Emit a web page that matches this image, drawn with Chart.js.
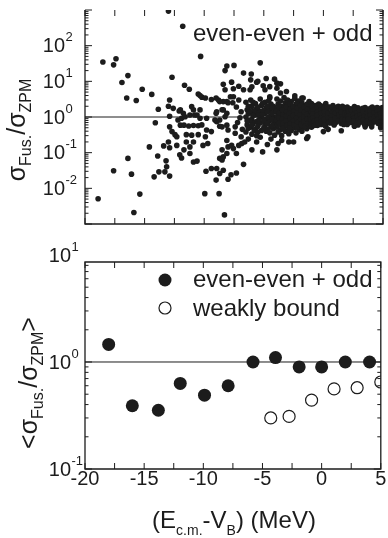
<!DOCTYPE html>
<html>
<head>
<meta charset="utf-8">
<script src="https://cdn.jsdelivr.net/npm/chart.js@4.4.1/dist/chart.umd.min.js"></script>
<style>
html, body { margin: 0; padding: 0; background: #fff; }
#wrap { position: relative; width: 388px; height: 538px; overflow: hidden; }
canvas { position: absolute; left: 0; top: 0; }
</style>
</head>
<body>
<div id="wrap">
<canvas id="topChart" width="388" height="538"></canvas>
<canvas id="bottomChart" width="388" height="538"></canvas>
</div>
<script>
// axis ticks
const xTicks = [-20, -17.5, -15, -12.5, -10, -7.5, -5, -2.5, 0, 2.5, 5];
const xLabels = [-20, -15, -10, -5, 0, 5];
const topDecades = [-2, -1, 0, 1, 2];
const bottomDecades = [-1, 0, 1];

// upper panel: sigma_fus / sigma_ZPM, one point per reaction/energy [E - VB, ratio]
const scatterLeft = [
  [-13.0, 930], [-11.8, 350],
  [-18.5, 35], [-17.6, 29], [-17.4, 43], [-10.3, 50],
  [-16.9, 9.3], [-16.4, 14.5], [-16.5, 3.4], [-15.7, 2.9], [-15.2, 6.0], [-14.4, 4.3],
  [-12.7, 13], [-11.65, 7.8], [-11.25, 6.0],
  [-13.85, 1.65], [-14.1, 0.69], [-12.9, 3.0], [-13.0, 2.0], [-12.6, 1.75], [-12.1, 1.47],
  [-12.9, 1.05], [-12.2, 0.82], [-11.9, 0.92], [-11.6, 1.02], [-12.0, 0.59], [-11.7, 0.59],
  [-11.05, 1.95], [-10.9, 1.58], [-11.2, 1.14], [-10.8, 1.14],
  [-11.3, 0.56], [-10.9, 0.58], [-10.5, 0.57], [-10.2, 0.6],
  [-10.35, 0.92], [-9.8, 0.92],
  [-12.9, 0.53], [-12.7, 0.39], [-12.45, 0.32], [-12.3, 0.28],
  [-11.5, 0.32], [-11.05, 0.31], [-10.5, 0.32], [-9.9, 0.28], [-9.8, 0.43], [-9.4, 0.39],
  [-10.1, 0.16], [-9.7, 0.18], [-11.5, 0.2], [-11.2, 0.145], [-10.9, 0.2],
  [-12.3, 0.16], [-12.9, 0.137], [-13.4, 0.155], [-13.0, 0.2], [-14.6, 0.145],
  [-12.05, 0.087], [-11.9, 0.071], [-11.7, 0.12], [-11.2, 0.095],
  [-10.9, 0.055], [-10.6, 0.058],
  [-13.9, 0.081], [-13.2, 0.059], [-13.15, 0.04], [-13.3, 0.029], [-13.8, 0.029], [-14.2, 0.021], [-12.9, 0.022],
  [-18.9, 0.0051], [-17.6, 0.031], [-16.4, 0.069], [-16.1, 0.025], [-15.4, 0.0069], [-15.9, 0.0021],
  [-9.85, 0.030], [-9.4, 0.036], [-8.95, 0.036], [-8.7, 0.026], [-8.4, 0.032], [-9.0, 0.017], [-8.0, 0.018],
  [-7.75, 0.024], [-7.3, 0.027], [-6.7, 0.047], [-9.95, 0.0071], [-8.75, 0.0071], [-8.3, 0.0018],
  [-8.7, 0.069], [-8.4, 0.076], [-8.5, 0.062], [-8.5, 0.12], [-8.1, 0.095], [-8.0, 0.145], [-7.7, 0.16],
  [-7.55, 0.13], [-7.3, 0.095], [-7.1, 0.16], [-6.85, 0.18], [-6.6, 0.2], [-6.0, 0.12], [-5.1, 0.105], [-3.9, 0.12],
  [-8.1, 0.22], [-8.0, 0.43], [-8.5, 0.53], [-7.4, 0.53], [-8.95, 0.74], [-8.1, 0.59], [-8.7, 0.55],
  [-9.1, 0.82], [-8.7, 0.82], [-8.25, 1.02], [-9.0, 1.27], [-8.5, 1.6], [-8.95, 1.4], [-8.4, 1.58], [-8.1, 1.27],
  [-12.0, 1.58], [-11.75, 1.27], [-10.6, 1.14], [-10.35, 1.58],
  [-10.5, 4.4], [-10.2, 3.6], [-9.9, 3.4], [-9.4, 3.1], [-8.8, 3.0], [-8.4, 2.7], [-8.1, 2.7], [-7.8, 3.7],
  [-7.55, 3.7], [-7.1, 3.0], [-10.35, 4.0], [-8.0, 2.5], [-7.6, 2.5], [-9.0, 3.4], [-8.7, 2.7],
  [-8.1, 27], [-7.5, 28], [-8.25, 20], [-6.7, 17], [-6.05, 16], [-5.3, 33],
  [-7.7, 9.5], [-8.4, 8.3], [-7.1, 7.3], [-7.55, 6.2], [-8.25, 5.8], [-6.7, 5.8], [-6.15, 5.8]
];

const scatterMid = [
  [-6.1, 11], [-5.5, 10], [-4.8, 12], [-4.1, 11.5], [-5.6, 9.4], [-3.6, 8.5],
  [-5.05, 7.5], [-4.5, 7.1], [-3.9, 8.9], [-6.0, 7.0], [-4.9, 5.8], [-4.5, 3.7], [-3.6, 4.7],
  [-3.1, 5.2], [-2.4, 3.9], [-1.8, 3.4], [-3.9, 6.4],
  [-7.3, 1.9], [-6.9, 1.4], [-7.0, 0.95], [-7.2, 0.7], [-6.8, 0.45], [-7.4, 0.35], [-6.9, 0.28],
  [-3.8, 0.18], [-2.9, 0.2], [-1.3, 0.28], [-3.5, 0.22], [-2.5, 0.2], [-1.4, 0.25], [-5.6, 0.2], [-4.7, 0.17],
  [-6.5, 2.6], [-6.4, 1.6], [-6.5, 1.0], [-6.4, 0.6], [-6.5, 0.38], [-6.3, 0.24],
  [-6.1, 3.0], [-6.0, 2.0], [-6.1, 1.3], [-6.0, 0.85], [-6.1, 0.52], [-6.0, 0.33],
  [-5.7, 2.4], [-5.6, 1.7], [-5.7, 1.15], [-5.6, 0.75], [-5.7, 0.46], [-5.6, 0.3],
  [-5.3, 3.2], [-5.2, 2.1], [-5.3, 1.45], [-5.2, 1.0], [-5.3, 0.68], [-5.2, 0.42], [-5.3, 0.27],
  [-4.9, 2.6], [-4.8, 1.8], [-4.9, 1.25], [-4.8, 0.88], [-4.9, 0.6], [-4.8, 0.4],
  [-4.5, 3.4], [-4.4, 2.3], [-4.5, 1.6], [-4.4, 1.1], [-4.5, 0.78], [-4.4, 0.53], [-4.5, 0.36], [-4.4, 0.24],
  [-4.2, 2.0], [-4.1, 1.4], [-4.2, 0.98], [-4.1, 0.68], [-4.2, 0.47], [-4.1, 0.31],
  [-6.3, 1.25], [-5.9, 0.65], [-5.5, 1.3], [-5.0, 0.5], [-4.6, 1.0], [-6.2, 0.8], [-5.4, 0.85], [-5.8, 1.5],
  [-6.3, 2.0], [-6.3, 0.48], [-6.2, 1.5], [-5.9, 2.6], [-5.9, 1.1], [-5.8, 0.42], [-5.5, 1.9], [-5.5, 0.55],
  [-5.4, 1.15], [-5.1, 2.4], [-5.1, 1.2], [-5.0, 0.78], [-5.0, 1.55], [-4.7, 2.0], [-4.7, 1.4], [-4.7, 0.65],
  [-4.65, 0.45], [-4.3, 1.8], [-4.3, 1.25], [-4.3, 0.85], [-4.3, 0.58], [-4.6, 2.8], [-6.4, 0.78], [-6.0, 0.6], [-5.5, 0.38],
  [-3.9, 3.2], [-3.8, 2.3], [-3.9, 1.7], [-3.8, 1.25], [-3.9, 0.95], [-3.8, 0.7], [-3.9, 0.52], [-3.8, 0.38],
  [-3.6, 2.8], [-3.5, 2.0], [-3.6, 1.5], [-3.5, 1.1], [-3.6, 0.82], [-3.5, 0.6], [-3.6, 0.44], [-3.5, 0.3],
  [-3.3, 3.5], [-3.2, 2.5], [-3.3, 1.8], [-3.2, 1.35], [-3.3, 1.0], [-3.2, 0.75], [-3.3, 0.55], [-3.2, 0.4],
  [-3.0, 2.2], [-2.9, 1.6], [-3.0, 1.2], [-2.9, 0.88], [-3.0, 0.65], [-2.9, 0.47], [-3.0, 3.0], [-2.9, 0.34],
  [-2.7, 2.7], [-2.6, 1.95], [-2.7, 1.45], [-2.6, 1.05], [-2.7, 0.78], [-2.6, 0.57], [-2.7, 0.42],
  [-2.4, 3.3], [-2.3, 2.3], [-2.4, 1.7], [-2.3, 1.25], [-2.4, 0.92], [-2.3, 0.68], [-2.4, 0.5], [-2.3, 0.36],
  [-2.1, 2.0], [-2.0, 1.5], [-2.1, 1.1], [-2.0, 0.82], [-2.1, 0.6], [-2.0, 0.45], [-2.1, 2.8],
  [-1.8, 2.5], [-1.7, 1.8], [-1.8, 1.3], [-1.7, 0.98], [-1.8, 0.72], [-1.7, 0.53], [-1.8, 0.4], [-1.7, 3.4],
  [-1.5, 2.1], [-1.4, 1.55], [-1.5, 1.15], [-1.4, 0.85], [-1.5, 0.63], [-1.4, 0.47],
  [-1.2, 2.7], [-1.25, 1.9], [-1.2, 1.35], [-1.3, 1.0], [-1.2, 0.75], [-1.25, 0.55],
  [-3.95, 1.45], [-3.85, 1.05], [-3.92, 0.82], [-3.86, 0.6], [-3.72, 1.9], [-3.68, 1.3], [-3.74, 0.95], [-3.7, 0.68],
  [-3.42, 1.6], [-3.38, 1.15], [-3.44, 0.88], [-3.4, 0.65], [-3.36, 0.48], [-3.12, 1.9], [-3.08, 1.4], [-3.1, 1.05],
  [-3.14, 0.78], [-3.06, 0.58], [-2.82, 2.3], [-2.78, 1.65], [-2.84, 1.25], [-2.8, 0.92], [-2.76, 0.66], [-2.82, 0.5],
  [-2.52, 1.95], [-2.48, 1.45], [-2.54, 1.1], [-2.5, 0.8], [-2.46, 0.6], [-2.22, 2.4], [-2.18, 1.75], [-2.2, 1.3],
  [-2.24, 0.95], [-2.16, 0.7], [-2.2, 0.52], [-1.92, 2.1], [-1.88, 1.55], [-1.94, 1.15], [-1.9, 0.85], [-1.86, 0.62],
  [-1.62, 1.9], [-1.58, 1.35], [-1.64, 1.0], [-1.6, 0.75], [-1.56, 0.55], [-1.36, 2.3], [-1.32, 1.65], [-1.38, 1.2],
  [-1.34, 0.88], [-1.3, 0.66], [-1.12, 1.6], [-1.08, 1.15], [-1.1, 0.85], [-1.06, 0.64]
];

const scatterRight = [
  [-1.0, 2.4], [-0.9, 1.8], [-1.0, 1.4], [-0.8, 1.1], [-1.0, 0.85], [-0.9, 0.66], [-1.0, 0.52],
  [-0.7, 2.1], [-0.6, 1.6], [-0.7, 1.25], [-0.6, 0.95], [-0.7, 0.74], [-0.5, 0.58],
  [-0.4, 2.3], [-0.3, 1.85], [-0.4, 1.4], [-0.3, 1.05], [-0.4, 0.8], [-0.2, 0.62],
  [-0.1, 1.6], [0.0, 1.2], [-0.1, 0.9], [0.0, 0.7], [0.0, 2.0],
  [0.2, 2.4], [0.3, 1.5], [0.2, 1.0], [0.3, 0.78], [0.2, 0.55],
  [0.5, 1.9], [0.6, 1.3], [0.5, 0.95], [0.6, 0.68],
  [0.8, 2.1], [0.8, 1.6], [0.9, 1.15], [0.8, 0.85], [0.9, 0.6],
  [1.1, 1.85], [1.1, 1.4], [1.2, 1.0], [1.1, 0.75],
  [1.4, 1.65], [1.4, 1.2], [1.3, 0.9], [1.5, 0.66],
  [1.6, 2.0], [1.7, 1.45], [1.7, 1.05], [1.6, 0.8],
  [1.9, 1.7], [1.9, 1.25], [1.8, 0.95], [1.9, 0.7],
  [-0.95, 2.0], [-0.85, 1.55], [-0.9, 1.2], [-0.85, 0.95], [-0.8, 0.75], [-0.75, 0.58], [-0.55, 1.95], [-0.5, 1.4],
  [-0.55, 1.1], [-0.5, 0.82], [-0.45, 0.68], [-0.25, 2.1], [-0.2, 1.6], [-0.2, 1.25], [-0.15, 0.95], [-0.2, 0.75],
  [0.1, 1.8], [0.1, 1.4], [0.1, 1.05], [0.05, 0.85], [0.1, 0.6], [0.35, 1.9], [0.4, 1.25], [0.4, 0.95],
  [0.45, 0.7], [0.7, 1.8], [0.7, 1.4], [0.7, 1.05], [0.65, 0.82], [0.95, 1.55], [1.0, 1.3], [1.0, 0.9],
  [1.0, 0.68], [1.25, 2.0], [1.25, 1.5], [1.3, 1.15], [1.25, 0.78], [1.5, 1.85], [1.5, 1.35], [1.55, 1.0],
  [1.55, 0.85], [1.75, 1.8], [1.8, 1.25], [1.8, 0.82], [1.7, 0.62],
  [2.0, 1.9], [2.1, 1.5], [2.0, 1.2], [2.2, 0.95], [2.1, 0.78], [2.0, 0.62],
  [2.3, 1.7], [2.4, 1.3], [2.5, 1.05], [2.4, 0.85], [2.5, 0.68],
  [2.6, 1.95], [2.7, 1.45], [2.7, 1.15], [2.8, 0.9], [2.7, 0.74], [2.9, 0.6],
  [2.9, 1.8], [3.0, 1.35], [3.0, 1.0], [3.1, 0.8],
  [3.2, 1.6], [3.3, 1.2], [3.2, 0.95], [3.4, 0.7],
  [3.5, 1.85], [3.5, 1.45], [3.6, 1.1], [3.5, 0.85], [3.6, 0.62],
  [3.8, 1.6], [3.8, 1.25], [3.9, 0.95], [3.8, 0.76],
  [4.1, 1.9], [4.0, 1.4], [4.1, 1.05], [4.2, 0.82], [4.1, 0.66],
  [4.3, 1.55], [4.4, 1.2], [4.4, 0.92], [4.5, 0.72],
  [4.6, 1.75], [4.6, 1.35], [4.7, 1.0], [4.7, 0.8], [4.8, 0.6],
  [4.9, 1.6], [4.9, 1.15], [5.0, 0.9], [5.0, 0.72], [5.0, 1.4], [4.95, 1.85],
  [2.15, 1.35], [2.25, 1.1], [2.3, 0.88], [2.2, 0.7], [2.35, 1.55], [2.55, 1.2], [2.6, 0.95], [2.55, 0.78],
  [2.65, 1.65], [2.8, 1.3], [2.85, 1.05], [2.95, 0.82], [2.85, 0.68], [3.05, 1.55], [3.1, 1.15], [3.15, 0.9],
  [3.05, 0.7], [3.3, 1.75], [3.35, 1.4], [3.4, 1.05], [3.35, 0.82], [3.45, 0.62], [3.65, 1.65], [3.7, 1.3],
  [3.7, 0.98], [3.65, 0.74], [3.95, 1.75], [3.9, 1.45], [3.95, 1.12], [4.0, 0.86], [3.95, 0.65], [4.25, 1.7],
  [4.25, 1.3], [4.3, 1.0], [4.3, 0.76], [4.5, 1.85], [4.55, 1.45], [4.55, 1.12], [4.6, 0.88], [4.6, 0.66],
  [4.8, 1.55], [4.8, 1.25], [4.85, 0.95], [4.85, 0.75], [2.05, 1.05], [2.1, 0.86],
  [1.5, 0.41], [3.5, 0.53], [4.05, 0.53], [0.0, 0.39], [0.4, 0.45], [4.8, 0.5], [2.6, 0.55]
];

// lower panel: averaged ratios
const evenOddX = [-18, -16, -13.8, -11.95, -9.9, -7.9, -5.8, -3.9, -1.9, 0, 2, 4.05];
const evenOddY = [1.46, 0.39, 0.354, 0.63, 0.49, 0.60, 1.0, 1.10, 0.90, 0.90, 1.0, 1.0];
const weaklyX = [-4.3, -2.75, -0.85, 1.05, 3.0, 5.0];
const weaklyY = [0.30, 0.31, 0.44, 0.56, 0.575, 0.65];

const ink = '#1c1c1c';
const fontFamily = "'Liberation Sans', Arial, Helvetica, sans-serif";

function toPoints(list) {
  return list.map(function (p) { return { x: p[0], y: p[1] }; });
}
function zipPoints(xs, ys) {
  return xs.map(function (x, i) { return { x: x, y: ys[i] }; });
}

// text with sub/superscripts: parts = [text, size, shift]
function drawRich(ctx, parts, cx, cy, angle) {
  ctx.save();
  ctx.translate(cx, cy);
  ctx.rotate(angle);
  ctx.textAlign = 'left';
  ctx.textBaseline = 'alphabetic';
  let w = 0;
  parts.forEach(function (p) {
    ctx.font = p[1] + 'px ' + fontFamily;
    w += ctx.measureText(p[0]).width;
  });
  let x = -w / 2;
  parts.forEach(function (p) {
    ctx.font = p[1] + 'px ' + fontFamily;
    ctx.fillText(p[0], x, p[2]);
    x += ctx.measureText(p[0]).width;
  });
  ctx.restore();
}

const framePlugin = {
  id: 'frame',
  afterDraw(chart, args, o) {
    const ctx = chart.ctx, a = chart.chartArea;
    const xs = chart.scales.x, ys = chart.scales.y;
    ctx.save();
    ctx.strokeStyle = ink;
    ctx.fillStyle = ink;
    ctx.lineWidth = 1.3;
    ctx.beginPath();
    ctx.moveTo(a.left, a.top);
    ctx.lineTo(a.left, a.bottom);
    ctx.lineTo(a.right, a.bottom);
    ctx.lineTo(a.right, a.top);
    if (o.closed) ctx.closePath();
    ctx.stroke();

    ctx.lineWidth = 1;
    ctx.beginPath();
    xTicks.forEach(function (v) {
      const p = xs.getPixelForValue(v);
      ctx.moveTo(p, a.bottom); ctx.lineTo(p, a.bottom - 6);
      ctx.moveTo(p, a.top); ctx.lineTo(p, a.top + 6);
    });
    for (let e = -4; e < 4; e++) {
      for (let m = 1; m < 10; m++) {
        const v = m * Math.pow(10, e);
        if (v < ys.min * 0.999 || v > ys.max * 1.001) continue;
        const p = ys.getPixelForValue(v);
        const len = m === 1 ? 7 : 3.5;
        ctx.moveTo(a.left, p); ctx.lineTo(a.left + len, p);
        ctx.moveTo(a.right, p); ctx.lineTo(a.right - len, p);
      }
    }
    ctx.stroke();

    // decade labels 10^n
    o.decades.forEach(function (e) {
      const p = ys.getPixelForValue(Math.pow(10, e));
      ctx.textBaseline = 'middle';
      ctx.textAlign = 'right';
      ctx.font = '20px ' + fontFamily;
      ctx.fillText('10', o.tenRight, p + 1);
      ctx.textAlign = 'left';
      ctx.font = '13px ' + fontFamily;
      ctx.fillText(String(e), o.tenRight + 0.5, p - 8);
    });

    if (o.xLabels) {
      ctx.textAlign = 'center';
      ctx.textBaseline = 'middle';
      ctx.font = '20px ' + fontFamily;
      xLabels.forEach(function (v) {
        ctx.fillText(String(v), xs.getPixelForValue(v), a.bottom + 10);
      });
    }

    // legend
    ctx.textAlign = 'left';
    ctx.textBaseline = 'alphabetic';
    ctx.font = '24px ' + fontFamily;
    o.legend.forEach(function (item) {
      if (item.marker === 'filled') {
        ctx.beginPath(); ctx.arc(item.mx, item.my, 6.5, 0, Math.PI * 2); ctx.fill();
      } else if (item.marker === 'open') {
        ctx.beginPath(); ctx.arc(item.mx, item.my, 6, 0, Math.PI * 2);
        ctx.lineWidth = 1.2; ctx.stroke();
      }
      ctx.fillText(item.text, item.tx, item.ty);
    });

    o.titles.forEach(function (t) {
      drawRich(ctx, t.parts, t.x, t.y, t.angle);
    });
    ctx.restore();
  }
};

const baseOptions = function (padding, yMin, yMax, frame) {
  return {
    responsive: false,
    animation: false,
    events: [],
    layout: { padding: padding },
    scales: {
      x: { type: 'linear', min: -20, max: 5, display: false },
      y: { type: 'logarithmic', min: yMin, max: yMax, display: false }
    },
    plugins: { legend: { display: false }, tooltip: { enabled: false }, frame: frame }
  };
};

new Chart(document.getElementById('topChart'), {
  type: 'scatter',
  data: {
    datasets: [
      {
        type: 'line',
        data: [{ x: -20, y: 1 }, { x: 5, y: 1 }],
        borderColor: ink, borderWidth: 1, pointRadius: 0, order: 2
      },
      {
        data: toPoints(scatterLeft.concat(scatterMid, scatterRight)),
        backgroundColor: ink, borderWidth: 0, pointRadius: 2.8, order: 1
      }
    ]
  },
  options: baseOptions({ left: 85, right: 5, top: 10, bottom: 314 }, 0.001, 1000, {
    closed: false,
    decades: topDecades,
    tenRight: 65,
    xLabels: false,
    legend: [{ marker: null, text: 'even-even + odd', tx: 193, ty: 41 }],
    titles: [{
      parts: [['\u03c3', 25, 0], ['Fus.', 16, 6], ['/', 25, 0], ['\u03c3', 25, 0], ['ZPM', 16, 6]],
      x: 25, y: 130, angle: -Math.PI / 2
    }]
  }),
  plugins: [framePlugin]
});

new Chart(document.getElementById('bottomChart'), {
  type: 'scatter',
  data: {
    datasets: [
      {
        type: 'line',
        data: [{ x: -20, y: 1 }, { x: 5, y: 1 }],
        borderColor: ink, borderWidth: 1, pointRadius: 0, order: 3
      },
      {
        data: zipPoints(evenOddX, evenOddY),
        backgroundColor: ink, borderWidth: 0, pointRadius: 6.5, order: 1
      },
      {
        data: zipPoints(weaklyX, weaklyY),
        backgroundColor: '#ffffff', borderColor: ink, borderWidth: 1.2, pointRadius: 6, order: 2
      }
    ]
  },
  options: baseOptions({ left: 85, right: 5, top: 262, bottom: 69 }, 0.1, 8.6, {
    closed: true,
    decades: bottomDecades,
    tenRight: 71,
    xLabels: true,
    legend: [
      { marker: 'filled', mx: 165, my: 280, text: 'even-even + odd', tx: 193, ty: 287 },
      { marker: 'open', mx: 165, my: 308, text: 'weakly bound', tx: 193, ty: 316 }
    ],
    titles: [
      {
        parts: [['<', 25, 0], ['\u03c3', 25, 0], ['Fus.', 16, 6], ['/', 25, 0], ['\u03c3', 25, 0], ['ZPM', 16, 6], ['>', 25, 0]],
        x: 37, y: 383, angle: -Math.PI / 2
      },
      {
        parts: [['(E', 24, 0], ['c.m.', 14, 7], ['-V', 24, 0], ['B', 14, 7], [') (MeV)', 24, 0]],
        x: 234, y: 528, angle: 0
      }
    ]
  }),
  plugins: [framePlugin]
});
</script>
</body>
</html>
